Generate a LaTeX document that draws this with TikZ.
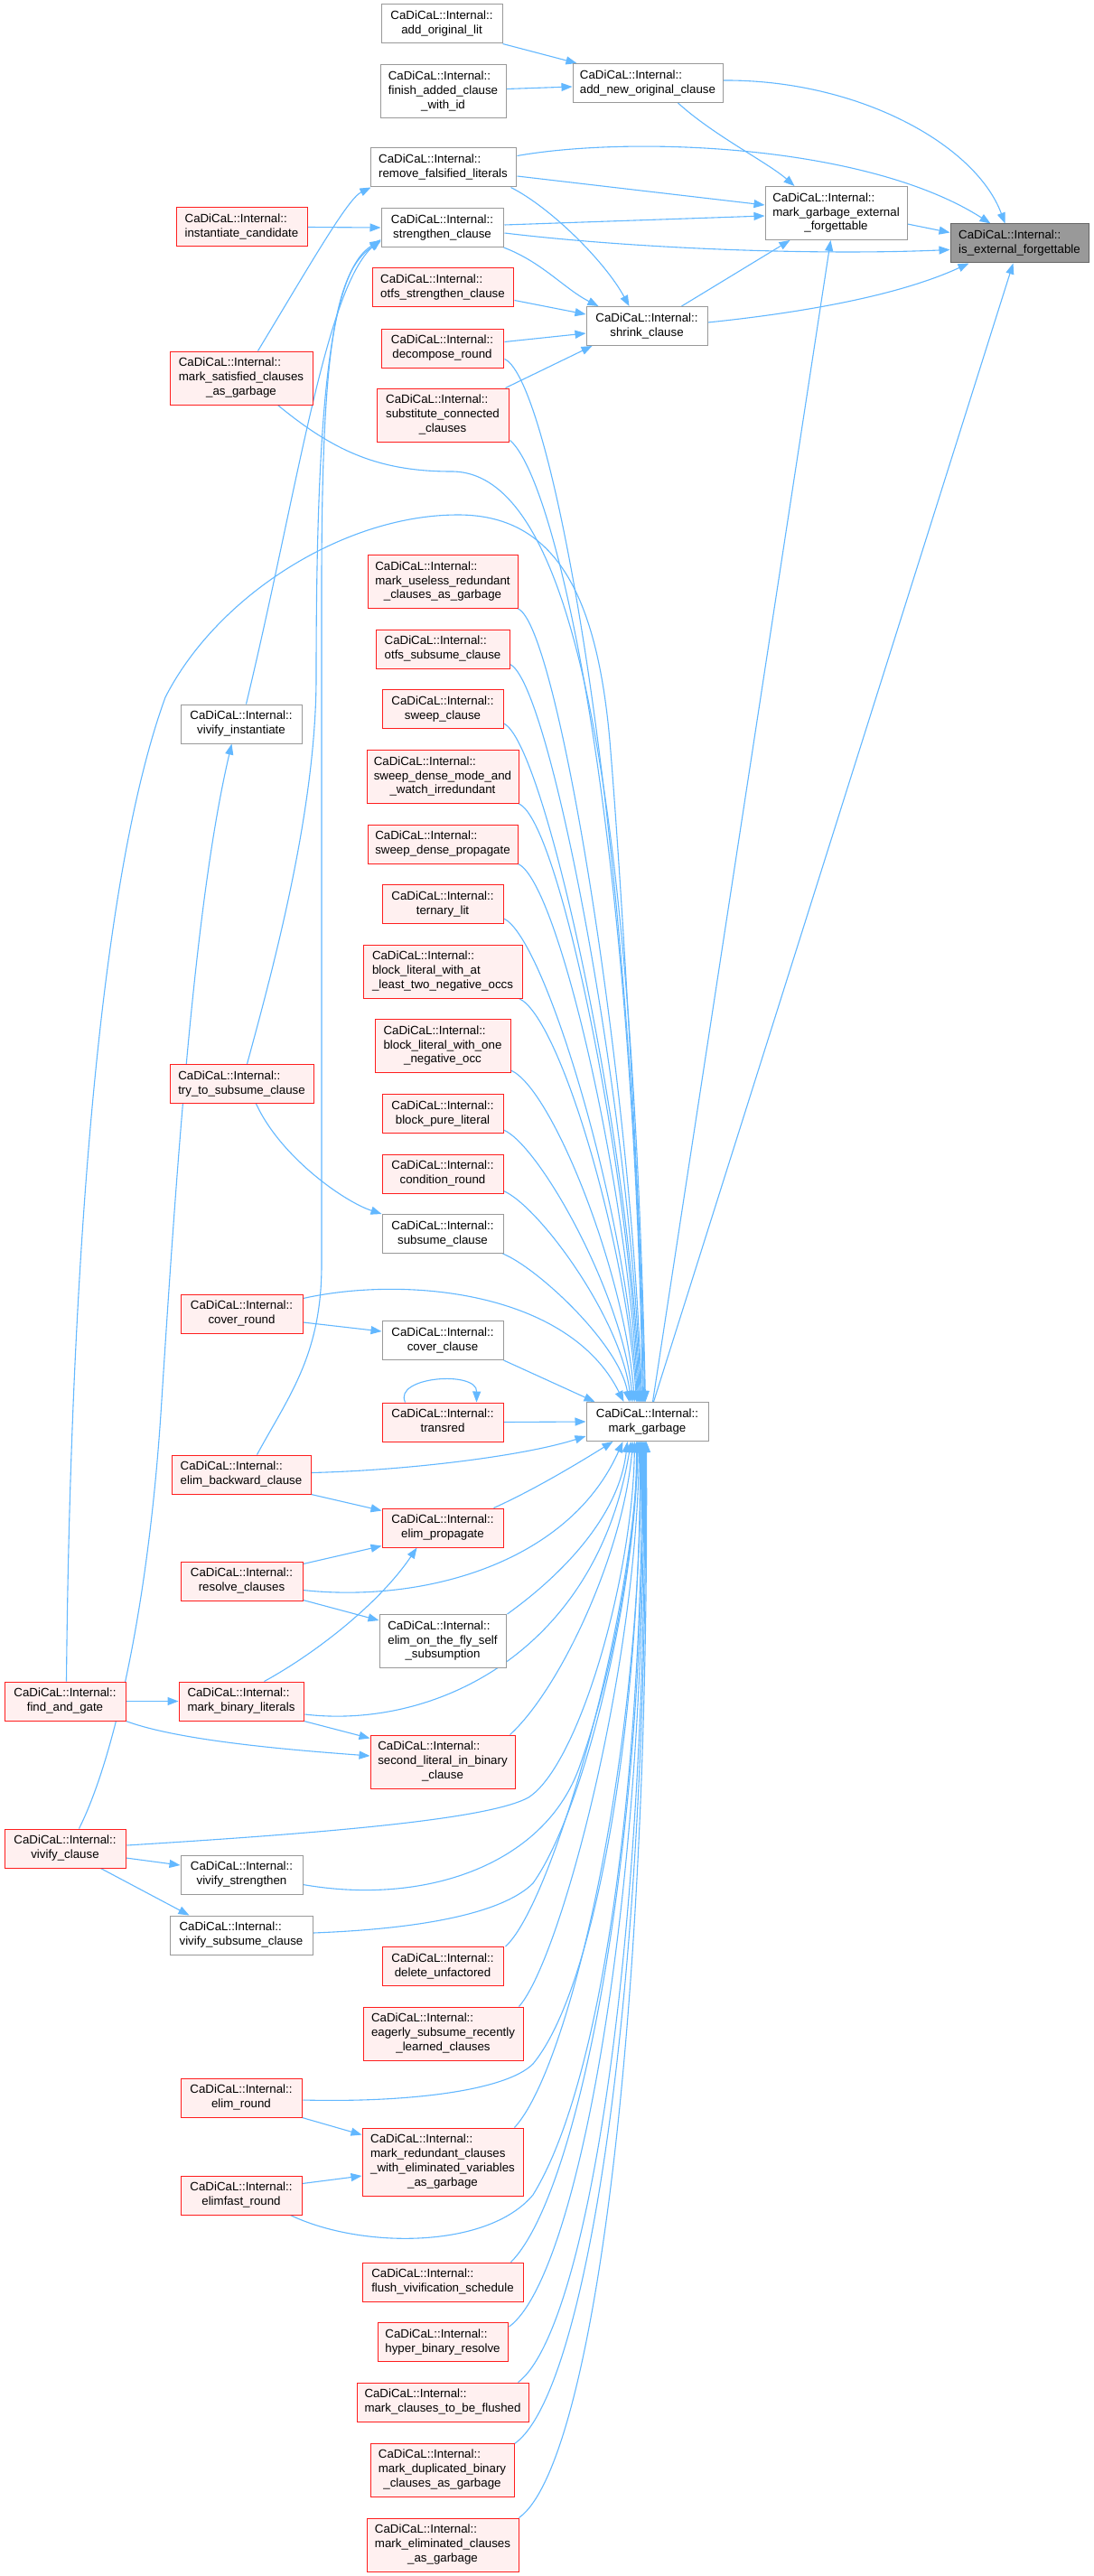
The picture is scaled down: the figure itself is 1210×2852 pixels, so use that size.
\documentclass[tikz,border=0pt]{standalone}
\usepackage{fontspec}
\setmainfont{Liberation Sans}
\usetikzlibrary{arrows.meta,calc}
\definecolor{edgec}{RGB}{99,184,255}
\definecolor{redb}{RGB}{255,30,30}
\definecolor{redf}{RGB}{255,240,240}
\definecolor{grayb}{RGB}{153,153,153}
\definecolor{rootf}{RGB}{153,153,153}
\definecolor{rootb}{RGB}{102,102,102}
\newcommand{\ltwo}[2]{\begin{tabular}{@{}l@{}}#1\\\multicolumn{1}{@{}c@{}}{#2}\end{tabular}}
\newcommand{\lthree}[3]{\begin{tabular}{@{}l@{}}#1\\#2\\\multicolumn{1}{@{}c@{}}{#3}\end{tabular}}
\newcommand{\lfour}[4]{\begin{tabular}{@{}l@{}}#1\\#2\\#3\\\multicolumn{1}{@{}c@{}}{#4}\end{tabular}}
\newcommand{\CI}{CaDiCaL::Internal::}
\pgfdeclarelayer{back}
\pgfdeclarelayer{bg}
\pgfsetlayers{back,bg,main}
\begin{document}
\begin{tikzpicture}[x=1pt,y=-1pt,
  font=\fontsize{13.3}{15.8}\selectfont,
  nb/.style={draw, line width=1pt, inner xsep=2pt, inner ysep=1pt, minimum height=43},
  rbox/.style={nb, draw=redb, fill=redf},
  gbox/.style={nb, draw=grayb, fill=white},
  rootbox/.style={nb, draw=rootb, fill=rootf},
  conn/.style={draw=edgec, line width=1.1pt, -{Triangle[length=12pt,width=9pt]}},
  hthree/.style={minimum height=59},
  hfour/.style={minimum height=75}]
\begin{pgfonlayer}{back}
\fill[white] (0,0) rectangle (1210,2852);
\end{pgfonlayer}
\useasboundingbox (0,0) rectangle (1210,2852);

% ---------- nodes ----------
\node[gbox, minimum width=134] (aol) at (489,26.5) {\ltwo{\CI}{add\_original\_lit}};
\node[gbox, hthree, minimum width=139] (fac) at (490.5,101.5) {\lthree{\CI}{finish\_added\_clause}{\_with\_id}};
\node[gbox, minimum width=166] (ano) at (717,92) {\ltwo{\CI}{add\_new\_original\_clause}};
\node[gbox, minimum width=161] (rfl) at (490.5,185.5) {\ltwo{\CI}{remove\_falsified\_literals}};
\node[gbox, minimum width=135] (stc) at (489.5,252) {\ltwo{\CI}{strengthen\_clause}};
\node[rbox, minimum width=156] (osc) at (490,318.5) {\ltwo{\CI}{otfs\_strengthen\_clause}};
\node[rbox, minimum width=135] (dcr) at (489.5,385.5) {\ltwo{\CI}{decompose\_round}};
\node[rbox, hthree, minimum width=146] (scc) at (490,459.5) {\lthree{\CI}{substitute\_connected}{\_clauses}};
\node[gbox, minimum width=134] (shc) at (716,361) {\ltwo{\CI}{shrink\_clause}};
\node[gbox, hthree, minimum width=157] (mgef) at (925.5,236) {\lthree{\CI}{mark\_garbage\_external}{\_forgettable}};
\node[rootbox, minimum width=153] (iex) at (1128.5,269.5) {\ltwo{\CI}{is\_external\_forgettable}};
\node[rbox, minimum width=145] (inc) at (267.5,251.5) {\ltwo{\CI}{instantiate\_candidate}};
\node[rbox, hthree, minimum width=158] (msc) at (267,418.5) {\lthree{\CI}{mark\_satisfied\_clauses}{\_as\_garbage}};
\node[rbox, hthree, minimum width=166] (mur) at (490,644) {\lthree{\CI}{mark\_useless\_redundant}{\_clauses\_as\_garbage}};
\node[rbox, minimum width=148] (osu) at (490,718.5) {\ltwo{\CI}{otfs\_subsume\_clause}};
\node[rbox, minimum width=134] (swc) at (490,785) {\ltwo{\CI}{sweep\_clause}};
\node[rbox, hthree, minimum width=168] (sdm) at (490,860) {\lthree{\CI}{sweep\_dense\_mode\_and}{\_watch\_irredundant}};
\node[rbox, minimum width=166] (sdp) at (490,934.5) {\ltwo{\CI}{sweep\_dense\_propagate}};
\node[rbox, minimum width=134] (tel) at (490,1001) {\ltwo{\CI}{ternary\_lit}};
\node[rbox, hthree, minimum width=176] (bla) at (490,1075.5) {\lthree{\CI}{block\_literal\_with\_at}{\_least\_two\_negative\_occs}};
\node[rbox, hthree, minimum width=150] (blo) at (490,1158) {\lthree{\CI}{block\_literal\_with\_one}{\_negative\_occ}};
\node[rbox, minimum width=134] (bpl) at (490,1233) {\ltwo{\CI}{block\_pure\_literal}};
\node[rbox, minimum width=134] (cdr) at (490,1299.5) {\ltwo{\CI}{condition\_round}};
\node[gbox, minimum width=134] (suc) at (490,1366) {\ltwo{\CI}{subsume\_clause}};
\node[gbox, minimum width=134] (coc) at (490,1484) {\ltwo{\CI}{cover\_clause}};
\node[rbox, minimum width=134] (trr) at (490,1574.5) {\ltwo{\CI}{transred}};
\node[gbox, minimum width=135] (mg) at (716.5,1574) {\ltwo{\CI}{mark\_garbage}};
\node[rbox, minimum width=134] (elp) at (490,1691.5) {\ltwo{\CI}{elim\_propagate}};
\node[gbox, hthree, minimum width=140] (eof) at (490,1817) {\lthree{\CI}{elim\_on\_the\_fly\_self}{\_subsumption}};
\node[rbox, hthree, minimum width=160] (slb) at (490,1950.5) {\lthree{\CI}{second\_literal\_in\_binary}{\_clause}};
\node[gbox, minimum width=134] (vin) at (267,801.5) {\ltwo{\CI}{vivify\_instantiate}};
\node[rbox, minimum width=159] (tts) at (267.5,1200) {\ltwo{\CI}{try\_to\_subsume\_clause}};
\node[rbox, minimum width=135] (cor) at (267.5,1454.5) {\ltwo{\CI}{cover\_round}};
\node[rbox, minimum width=154] (ebc) at (267,1632.5) {\ltwo{\CI}{elim\_backward\_clause}};
\node[rbox, minimum width=135] (rsc) at (267.5,1750.5) {\ltwo{\CI}{resolve\_clauses}};
\node[rbox, minimum width=134] (fag) at (72,1883.5) {\ltwo{\CI}{find\_and\_gate}};
\node[rbox, minimum width=138] (mbl) at (267,1883.5) {\ltwo{\CI}{mark\_binary\_literals}};
\node[rbox, minimum width=134] (vic) at (72,2046.5) {\ltwo{\CI}{vivify\_clause}};
\node[gbox, minimum width=135] (vst) at (267.5,2075.5) {\ltwo{\CI}{vivify\_strengthen}};
\node[gbox, minimum width=158] (vsc) at (267,2142.5) {\ltwo{\CI}{vivify\_subsume\_clause}};
\node[rbox, minimum width=134] (deu) at (490,2177) {\ltwo{\CI}{delete\_unfactored}};
\node[rbox, hthree, minimum width=177] (esr) at (490.5,2251.5) {\lthree{\CI}{eagerly\_subsume\_recently}{\_learned\_clauses}};
\node[rbox, minimum width=134] (elr) at (267,2322.5) {\ltwo{\CI}{elim\_round}};
\node[rbox, hfour, minimum width=178] (mrc) at (490,2393.5) {\lfour{\CI}{mark\_redundant\_clauses}{\_with\_eliminated\_variables}{\_as\_garbage}};
\node[rbox, minimum width=134] (efr) at (267,2430.5) {\ltwo{\CI}{elimfast\_round}};
\node[rbox, minimum width=178] (fvs) at (490,2526.5) {\ltwo{\CI}{flush\_vivification\_schedule}};
\node[rbox, minimum width=144] (hbr) at (490,2593) {\ltwo{\CI}{hyper\_binary\_resolve}};
\node[rbox, minimum width=190] (mcf) at (490,2659.5) {\ltwo{\CI}{mark\_clauses\_to\_be\_flushed}};
\node[rbox, hthree, minimum width=159] (mdb) at (489.5,2734.5) {\lthree{\CI}{mark\_duplicated\_binary}{\_clauses\_as\_garbage}};
\node[rbox, hthree, minimum width=168] (mec) at (490,2817.5) {\lthree{\CI}{mark\_eliminated\_clauses}{\_as\_garbage}};

% ---------- edges ----------
\begin{pgfonlayer}{bg}
% top part
\draw[conn] (aol.south east) -- ($(ano.north west)+(5,0)$);
\draw[conn] ($(fac.east)+(0,-3)$) -- ($(ano.west)+(0,4)$);
\draw[conn] ($(ano.east)+(0,-3)$) .. controls (950,88) and (1080,160) .. ($(iex.north west)+(61,0)$);
\draw[conn] ($(ano.south west)+(117,0)$) .. controls (790,150) and (850,180) .. ($(mgef.north west)+(33,0)$);
\draw[conn] ($(rfl.north east)+(1,9)$) .. controls (700,150) and (960,160) .. ($(iex.north west)+(45,0)$);
\draw[conn] ($(rfl.east)+(1,9.5)$) -- ($(mgef.west)+(0,-9)$);
\draw[conn] ($(stc.east)+(1,-3)$) -- ($(mgef.west)+(0,3)$);
\draw[conn] ($(stc.east)+(1,6)$) .. controls (700,275) and (900,283) .. ($(iex.west)+(0,7)$);
\draw[conn] ($(mgef.east)+(0,12)$) -- ($(iex.west)+(0,-12)$);
\draw[conn] ($(shc.north west)+(106,0)$) -- ($(mgef.south west)+(28,0)$);
\draw[conn] ($(shc.east)+(0,-4)$) .. controls (900,345) and (1000,325) .. ($(iex.south west)+(21,0)$);
\draw[conn] ($(rfl.south east)+(-6,0)$) .. controls (610,230) and (670,290) .. ($(shc.north west)+(48,0)$);
\draw[conn] (stc.south east) .. controls (600,290) and (625,320) .. ($(shc.north west)+(14,0)$);
\draw[conn] ($(osc.east)+(1,14)$) -- ($(shc.west)+(0,-13)$);
\draw[conn] ($(dcr.east)+(1,-7)$) -- ($(shc.west)+(0,8)$);
\draw[conn] ($(scc.north east)+(-4,0)$) -- ($(shc.south west)+(7,0)$);
\draw[conn] ($(msc.north west)+(98,0)$) .. controls (345,290) and (385,220) .. ($(rfl.south west)+(1,0)$);
\draw[conn] (inc.east) -- (stc.west);
\draw[conn] ($(tts.north west)+(86,0)$) .. controls (300,1080) and (350,900) .. (350,750) .. controls (350,450) and (365,300) .. ($(stc.west)+(0,14)$);
\draw[conn] ($(ebc.north west)+(95,0)$) .. controls (320,1545) and (356,1500) .. (356,1400) -- (356,650) .. controls (356,380) and (372,300) .. ($(stc.west)+(0,15)$);
\draw[conn] ($(vin.north west)+(73,0)$) .. controls (330,540) and (360,320) .. ($(stc.west)+(0,13)$);
\draw[conn] ($(vic.north west)+(83,0)$) .. controls (125,1950) and (165,1780) .. (179,1550) .. controls (195,1300) and (215,1000) .. ($(vin.south west)+(57,0)$);
% into mark_garbage from above
\draw[conn] ($(fag.north west)+(69,0)$) .. controls (77,1500) and (100,1000) .. (183,772) .. controls (240,660) and (380,570) .. (507,570) .. controls (610,570) and (660,650) .. (675,820) .. controls (690,1000) and (712,1400) .. ($(mg.north west)+(65,0)$);
\draw[conn] ($(msc.south west)+(120,0)$) .. controls (370,500) and (420,522) .. (500,522) .. controls (640,522) and (700,900) .. ($(mg.north west)+(66,0)$);
\draw[conn] ($(dcr.east)+(1,12)$) .. controls (610,420) and (700,900) .. ($(mg.north west)+(64,0)$);
\draw[conn] ($(scc.south east)+(1,-2)$) .. controls (615,530) and (700,900) .. ($(mg.north west)+(63,0)$);
\draw[conn] (mur.south east) .. controls (618,693) and (699,1201) .. ($(mg.north west)+(62,0)$);
\draw[conn] ($(osu.south east)+(0,-5)$) .. controls (609,755) and (698,1226) .. ($(mg.north west)+(61,0)$);
\draw[conn] ($(swc.south east)+(0,-6)$) .. controls (602,820) and (697,1252) .. ($(mg.north west)+(60,0)$);
\draw[conn] (sdm.south east) .. controls (619,909) and (696,1287) .. ($(mg.north west)+(59,0)$);
\draw[conn] (sdp.south east) .. controls (618,976) and (695,1314) .. ($(mg.north west)+(58,0)$);
\draw[conn] ($(tel.south east)+(0,-6)$) .. controls (602,1036) and (694,1338) .. ($(mg.north west)+(57,0)$);
\draw[conn] ($(bla.south east)+(-4,0)$) .. controls (619,1125) and (693,1374) .. ($(mg.north west)+(56,0)$);
\draw[conn] ($(blo.south east)+(0,-3)$) .. controls (610,1204) and (691,1405) .. ($(mg.north west)+(54,0)$);
\draw[conn] ($(bpl.south east)+(0,-4)$) .. controls (597,1268) and (689,1432) .. ($(mg.north west)+(52,0)$);
\draw[conn] ($(cdr.south east)+(0,-3)$) .. controls (597,1336) and (687,1459) .. ($(mg.north west)+(50,0)$);
\draw[conn] ($(suc.south east)+(-1,0)$) .. controls (594,1403) and (685,1487) .. ($(mg.north west)+(48,0)$);
\draw[conn] ($(cor.north east)+(0,5)$) .. controls (450,1412) and (630,1430) .. ($(mg.north west)+(42,0)$);
\draw[conn] (coc.south east) -- ($(mg.north west)+(10,0)$);
% around mark_garbage
\draw[conn] ($(tts.south west)+(96,0)$) .. controls (310,1280) and (380,1330) .. (suc.north west);
\draw[conn] ($(cor.east)+(0,9.5)$) -- ($(coc.west)+(0,-10)$);
\draw[conn] ($(trr.north west)+(26,0)$) .. controls (435,1524) and (528,1517) .. ($(trr.north west)+(105,0)$);
\draw[conn] (trr.east) -- (mg.west);
\draw[conn] ($(ebc.east)+(0,-2)$) .. controls (450,1628) and (580,1612) .. ($(mg.west)+(0,16)$);
\draw[conn] (ebc.south east) -- ($(elp.north west)+(0,3)$);
\draw[conn] ($(rsc.north east)+(0,3)$) -- ($(elp.south west)+(0,-2)$);
\draw[conn] ($(rsc.south east)+(0,-1)$) -- ($(eof.north west)+(0,7)$);
\draw[conn] ($(mbl.north west)+(95,0)$) .. controls (350,1830) and (420,1775) .. ($(elp.south west)+(39,0)$);
\draw[conn] (mbl.south east) -- ($(slb.north west)+(0,4)$);
\draw[conn] (fag.east) -- (mbl.west);
\draw[conn] (fag.south east) .. controls (200,1928) and (330,1938) .. ($(slb.west)+(0,-6.5)$);
\draw[conn] ($(vic.east)+(0,10.5)$) -- ($(vst.west)+(0,-10.5)$);
\draw[conn] ($(vic.south west)+(107,0)$) -- ($(vsc.north west)+(22,0)$);
\draw[conn] (elr.south east) -- ($(mrc.north west)+(0,8)$);
\draw[conn] ($(efr.north east)+(0,9)$) -- ($(mrc.west)+(0,15.5)$);
% into mark_garbage from below
\draw[conn] ($(elp.north east)+(-11,0)$) .. controls (590,1650) and (640,1620) .. ($(mg.south west)+(30,0)$);
\draw[conn] ($(rsc.east)+(0,10)$) .. controls (470,1775) and (630,1730) .. ($(mg.south west)+(41,0)$);
\draw[conn] ($(eof.north east)+(1,0)$) .. controls (620,1745) and (685,1680) .. ($(mg.south west)+(46,0)$);
\draw[conn] ($(mbl.east)+(1,14.5)$) .. controls (480,1915) and (660,1830) .. ($(mg.south west)+(50,0)$);
\draw[conn] ($(slb.north east)+(-6,0)$) .. controls (620,1870) and (690,1720) .. ($(mg.south west)+(52,0)$);
\draw[conn] ($(vic.east)+(1,-3.5)$) .. controls (350,2030) and (540,2015) .. (585,1990) .. controls (640,1955) and (700,1750) .. ($(mg.south west)+(54,0)$);
\draw[conn] ($(vst.east)+(0,11)$) .. controls (470,2110) and (600,2065) .. (640,1960) .. controls (680,1850) and (705,1700) .. ($(mg.south west)+(56,0)$);
\draw[conn] ($(vsc.east)+(0,-2.5)$) .. controls (480,2135) and (560,2115) .. (590,2085) .. controls (650,2000) and (705,1750) .. ($(mg.south west)+(57,0)$);
\draw[conn] ($(deu.north east)+(2,0)$) .. controls (610,2110) and (700,1800) .. ($(mg.south west)+(58,0)$);
\draw[conn] ($(esr.north east)+(-5,0)$) .. controls (620,2170) and (705,1850) .. ($(mg.south west)+(59,0)$);
\draw[conn] ($(elr.east)+(1,2.5)$) .. controls (450,2328) and (560,2315) .. (590,2285) .. controls (660,2200) and (710,1900) .. ($(mg.south west)+(60,0)$);
\draw[conn] ($(mrc.north east)+(-10,0)$) .. controls (630,2290) and (710,1950) .. ($(mg.south west)+(61,0)$);
\draw[conn] ($(efr.south east)+(-13,0)$) .. controls (400,2490) and (540,2490) .. (590,2430) .. controls (670,2300) and (712,1950) .. ($(mg.south west)+(62,0)$);
\draw[conn] ($(fvs.north east)+(-14,0)$) .. controls (640,2430) and (715,2050) .. ($(mg.south west)+(63,0)$);
\draw[conn] ($(hbr.east)+(1,-17)$) .. controls (640,2520) and (716,2100) .. ($(mg.south west)+(64,0)$);
\draw[conn] ($(mcf.north east)+(-12,0)$) .. controls (650,2580) and (717,2150) .. ($(mg.south west)+(65,0)$);
\draw[conn] ($(mdb.north east)+(0,1)$) .. controls (650,2650) and (718,2200) .. ($(mg.south west)+(66,0)$);
\draw[conn] (mec.north east) .. controls (655,2730) and (719,2250) .. ($(mg.south west)+(67,0)$);
% mark_garbage upwards
\draw[conn] ($(mg.north west)+(74,0)$) -- ($(mgef.south west)+(73,0)$);
\draw[conn] ($(mg.north west)+(75,0)$) -- ($(iex.south west)+(70,0)$);
\end{pgfonlayer}
\end{tikzpicture}
\end{document}
